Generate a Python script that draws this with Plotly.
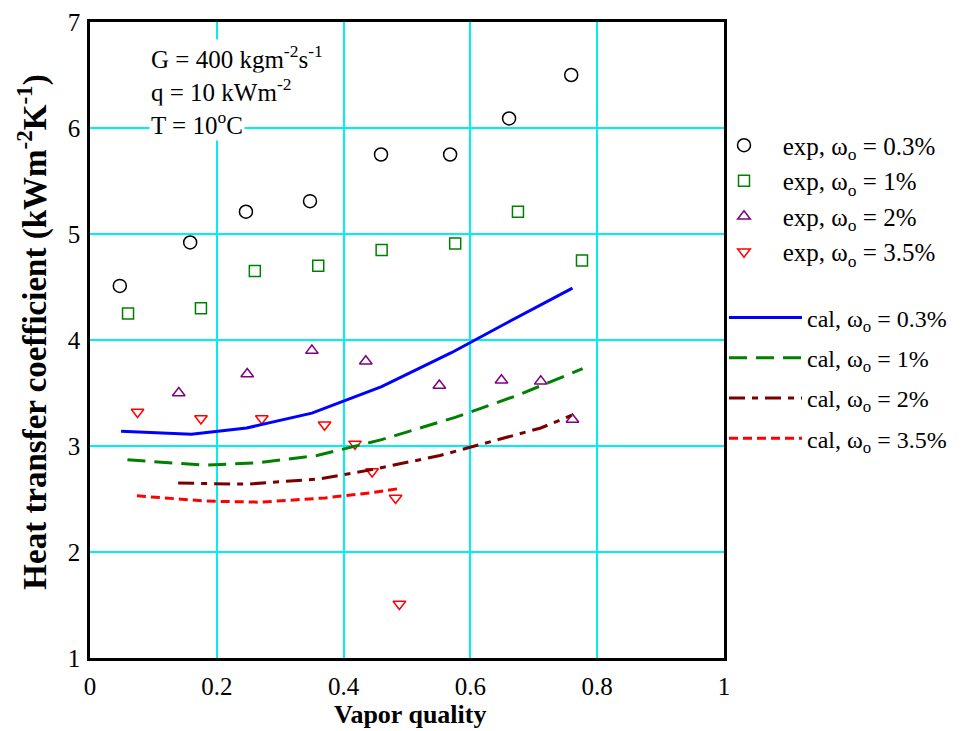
import plotly.graph_objects as go

# Experimental heat transfer coefficients (kW m^-2 K^-1) vs vapor quality
exp03_x = [0.047, 0.158, 0.246, 0.347, 0.459, 0.568, 0.661, 0.759]
exp03_y = [4.51, 4.92, 5.21, 5.31, 5.75, 5.75, 6.09, 6.50]

exp1_x = [0.060, 0.175, 0.260, 0.360, 0.460, 0.576, 0.675, 0.776]
exp1_y = [4.25, 4.30, 4.65, 4.70, 4.85, 4.91, 5.21, 4.75]

exp2_x = [0.140, 0.248, 0.350, 0.435, 0.551, 0.649, 0.711, 0.761]
exp2_y = [3.50, 3.68, 3.90, 3.80, 3.57, 3.62, 3.61, 3.25]

exp35_x = [0.075, 0.175, 0.271, 0.370, 0.418, 0.445, 0.482, 0.488]
exp35_y = [3.32, 3.26, 3.26, 3.20, 3.02, 2.76, 2.51, 1.51]

# Calculated values
cal03_x = [0.049, 0.160, 0.247, 0.350, 0.460, 0.570, 0.660, 0.761]
cal03_y = [3.14, 3.11, 3.17, 3.31, 3.56, 3.88, 4.17, 4.49]

cal1_x = [0.059, 0.179, 0.263, 0.358, 0.460, 0.576, 0.675, 0.777]
cal1_y = [2.87, 2.82, 2.84, 2.91, 3.06, 3.27, 3.48, 3.73]

cal2_x = [0.139, 0.247, 0.363, 0.447, 0.552, 0.650, 0.711, 0.760]
cal2_y = [2.65, 2.64, 2.69, 2.78, 2.91, 3.07, 3.17, 3.29]

cal35_x = [0.074, 0.184, 0.268, 0.371, 0.415, 0.445, 0.489]
cal35_y = [2.53, 2.48, 2.47, 2.51, 2.54, 2.56, 2.60]

x_ticks = [0, 0.2, 0.4, 0.6, 0.8, 1]
y_ticks = [1, 2, 3, 4, 5, 6, 7]

SERIF = "Liberation Serif, Times New Roman, serif"
GREEN = "#008000"
PURPLE = "#800080"
MAROON = "#7a0000"

W = "ω<sub>o</sub>"
PAD = "\u00a0\u00a0\u00a0"

fig = go.Figure()

markers = [
    (exp03_x, exp03_y, "circle-open", "black", 13, "0.3%"),
    (exp1_x, exp1_y, "square-open", GREEN, 11, "1%"),
    (exp2_x, exp2_y, "triangle-up-open", PURPLE, 11, "2%"),
    (exp35_x, exp35_y, "triangle-down-open", "red", 11, "3.5%"),
]
for i, (xs, ys, sym, col, sz, lab) in enumerate(markers):
    fig.add_trace(go.Scatter(
        x=xs, y=ys, mode="markers",
        marker=dict(symbol=sym, color=col, size=sz, line=dict(width=1.5, color=col)),
        name=f"{PAD}exp, {W} = {lab}", legend="legend", legendgroup=f"e{i}",
    ))

lines = [
    (cal03_x, cal03_y, "blue", "solid", "0.3%"),
    (cal1_x, cal1_y, GREEN, "18px,9px", "1%"),
    (cal2_x, cal2_y, MAROON, "16px,7px,6px,7px", "2%"),
    (cal35_x, cal35_y, "red", "9px,5px", "3.5%"),
]
for i, (xs, ys, col, dash, lab) in enumerate(lines):
    fig.add_trace(go.Scatter(
        x=xs, y=ys, mode="lines",
        line=dict(color=col, width=3, dash=dash),
        name=f"cal, {W} = {lab}", legend="legend2", legendgroup=f"c{i}",
    ))

axis_common = dict(
    showline=True, linecolor="black", linewidth=2.5, mirror=True,
    showgrid=True, gridcolor="#00f0f0", gridwidth=1.5,
    zeroline=False, ticks="", automargin=False,
    tickfont=dict(family=SERIF, size=25, color="black"),
)

fig.update_layout(
    width=969, height=731,
    margin=dict(l=90, r=245, t=22, b=73),
    paper_bgcolor="white", plot_bgcolor="white",
    font=dict(family=SERIF, color="black"),
    xaxis=dict(range=[0, 1], tickvals=x_ticks, ticktext=[f"{v:g}" for v in x_ticks],
               ticklabelstandoff=4, **axis_common),
    yaxis=dict(range=[1, 7], tickvals=y_ticks, ticklabelstandoff=2, **axis_common),
    legend=dict(x=1.0, y=0.842, xanchor="left", yanchor="top",
                font=dict(family=SERIF, size=25), bgcolor="rgba(0,0,0,0)",
                tracegroupgap=0, itemwidth=30),
    legend2=dict(x=1.0, y=0.57, xanchor="left", yanchor="top",
                 font=dict(family=SERIF, size=24), bgcolor="rgba(0,0,0,0)",
                 tracegroupgap=6, itemwidth=73),
    showlegend=True,
)

# Axis titles
fig.add_annotation(
    xref="paper", yref="paper", x=0.505, y=-0.089, xanchor="center", yanchor="middle",
    text="<b>Vapor quality</b>", showarrow=False,
    font=dict(family=SERIF, size=26, color="black"),
)
fig.add_annotation(
    xref="paper", yref="paper", x=-0.09, y=0.513, xanchor="center", yanchor="middle",
    textangle=-90, text="<b>Heat transfer coefficient (kWm<sup>-2</sup>K<sup>-1</sup>)</b>",
    showarrow=False, font=dict(family=SERIF, size=33, color="black"),
)

notes = [
    "G = 400 kgm<sup>-2</sup>s<sup>-1</sup>",
    "q = 10 kWm<sup>-2</sup>",
    "T = 10<sup>o</sup>C",
]
for k, t in enumerate(notes):
    fig.add_annotation(
        xref="paper", yref="paper", x=0.093, y=0.945 - k * 0.052,
        xanchor="left", yanchor="middle", text=t, showarrow=False,
        font=dict(family=SERIF, size=25, color="black"), bgcolor="white",
    )

fig.write_html("out.html")
